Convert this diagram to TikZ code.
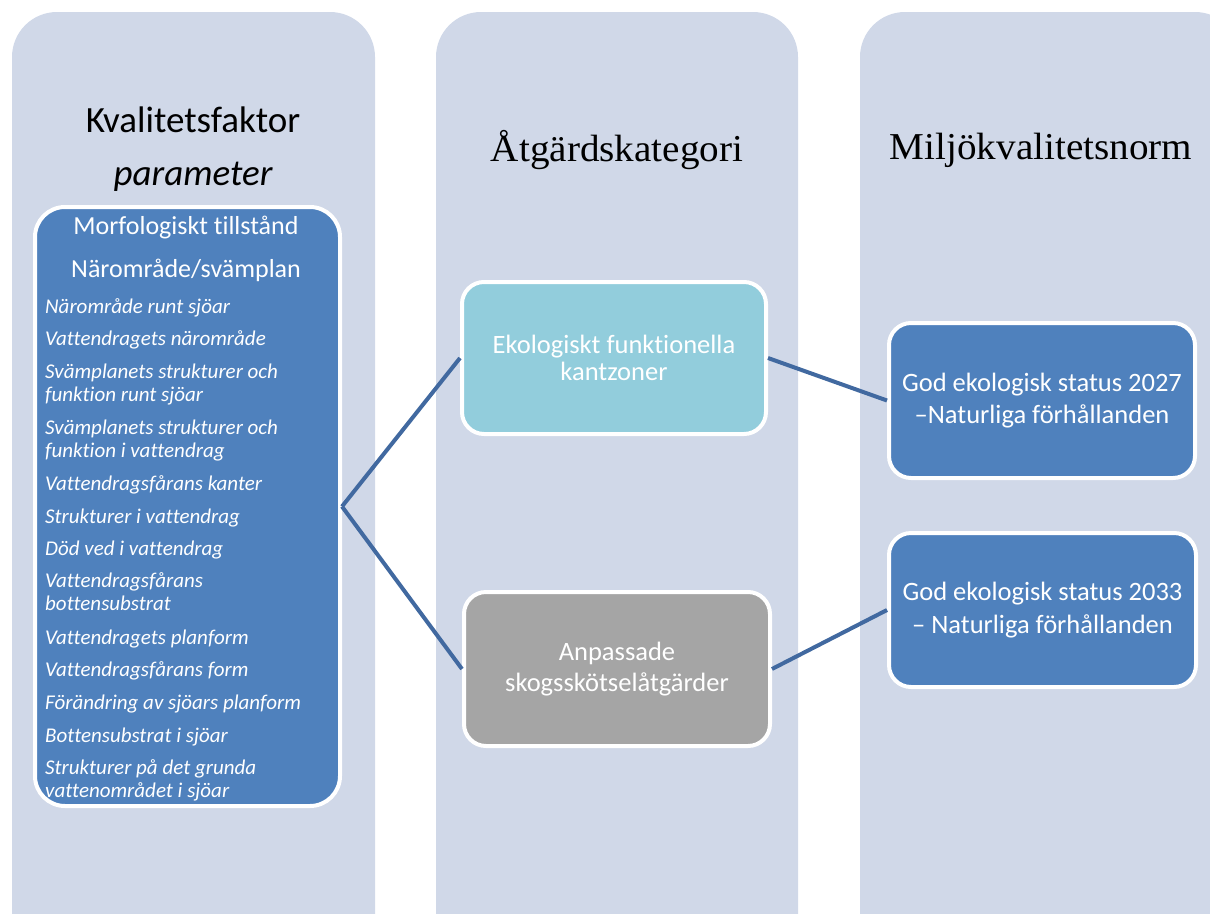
\documentclass[tikz,border=0pt]{standalone}
\usepackage{fontspec}
\setmainfont{Carlito}[Ligatures=NoCommon]
\newfontfamily\headserif{Liberation Serif}
\definecolor{colbg}{HTML}{D0D8E8}
\definecolor{accent}{HTML}{4F81BD}
\definecolor{teal}{HTML}{92CDDC}
\definecolor{graybox}{HTML}{A5A5A5}
\definecolor{link}{HTML}{4169A0}
\tikzset{
  column/.style={fill=colbg, rounded corners=45pt},
  card/.style={draw=white, line width=4pt, rounded corners=22pt, text=white,
    align=center, inner sep=0pt},
  listbox/.style={card, fill=accent, rounded corners=30pt,
    minimum width=305pt, minimum height=599pt},
  head/.style={font=\fontsize{37}{44}\selectfont, text=black},
  serifhead/.style={font=\headserif\fontsize{38}{44}\selectfont, text=black},
  subhead/.style={text=white, font=\fontsize{26}{30}\selectfont},
  item/.style={text=white, anchor=base west, align=left, inner sep=0pt,
    font=\itshape\fontsize{21}{23.5}\selectfont},
  conn/.style={draw=link, line width=4pt}
}
\begin{document}
\begin{tikzpicture}[x=1pt,y=-1pt]
\useasboundingbox (0,0) rectangle (1210,913);
\clip (0,0) rectangle (1210,913);

% three background columns
\fill[column] (12,970) -- (12,12) -- (375,12) -- (375,970) -- cycle;
\fill[column] (436,970) -- (436,12) -- (798,12) -- (798,970) -- cycle;
\fill[column] (860,970) -- (860,12) -- (1240,12) -- (1240,970) -- cycle;

% column headings
\node[head] (h1) at (193,120) {Kvalitetsfaktor};
\node[head, font=\itshape\fontsize{37}{44}\selectfont] (h1b) at (193,177) {parameter};
\node[serifhead] (h2) at (617,150) {\scalebox{1.03}[1]{Åtgärdskategori}};
\node[serifhead] (h3) at (1041,150) {\scalebox{1.03}[1]{Miljökvalitetsnorm}};

% quality factor list (base anchor sits on the last line of each item)
\node[listbox] (kf) at (187.5,506.5) {};
\node[subhead] (s1) at (186,228) {Morfologiskt tillstånd};
\node[subhead] (s2) at (186,270) {Närområde/svämplan};
\node[item] (i1)  at (45,313) {Närområde runt sjöar};
\node[item] (i2)  at (45,345) {Vattendragets närområde};
\node[item] (i3)  at (45,401.5) {Svämplanets strukturer och\\funktion runt sjöar};
\node[item] (i4)  at (45,457.5) {Svämplanets strukturer och\\funktion i vattendrag};
\node[item] (i5)  at (45,490) {Vattendragsfårans kanter};
\node[item] (i6)  at (45,523) {Strukturer i vattendrag};
\node[item] (i7)  at (45,555) {Död ved i vattendrag};
\node[item] (i8)  at (45,610.5) {Vattendragsfårans\\bottensubstrat};
\node[item] (i9)  at (45,644) {Vattendragets planform};
\node[item] (i10) at (45,676) {Vattendragsfårans form};
\node[item] (i11) at (45,709) {Förändring av sjöars planform};
\node[item] (i12) at (45,742) {Bottensubstrat i sjöar};
\node[item] (i13) at (45,797.5) {Strukturer på det grunda\\vattenområdet i sjöar};

% measure categories
\node[card, fill=teal, minimum width=304pt, minimum height=152pt,
  font=\fontsize{26.5}{27}\selectfont] (ek) at (614,358)
  {Ekologiskt funktionella\\kantzoner};
\node[card, fill=graybox, minimum width=306pt, minimum height=154pt,
  font=\fontsize{26.5}{31}\selectfont] (an) at (617,669)
  {Anpassade\\skogsskötselåtgärder};

% environmental quality standards
\node[card, fill=accent, minimum width=306pt, minimum height=155pt,
  font=\fontsize{26.5}{32.5}\selectfont] (g1) at (1042,400.5)
  {God ekologisk status 2027\\–Naturliga förhållanden};
\node[card, fill=accent, minimum width=307pt, minimum height=154pt,
  font=\fontsize{26.5}{32.5}\selectfont] (g2) at (1042.5,610)
  {God ekologisk status 2033\\– Naturliga förhållanden};

% connectors
\draw[conn] (kf.east) -- (ek.west);
\draw[conn] (kf.east) -- (an.west);
\draw[conn] (ek.east) -- (g1.west);
\draw[conn] (an.east) -- (g2.west);
\end{tikzpicture}
\end{document}
